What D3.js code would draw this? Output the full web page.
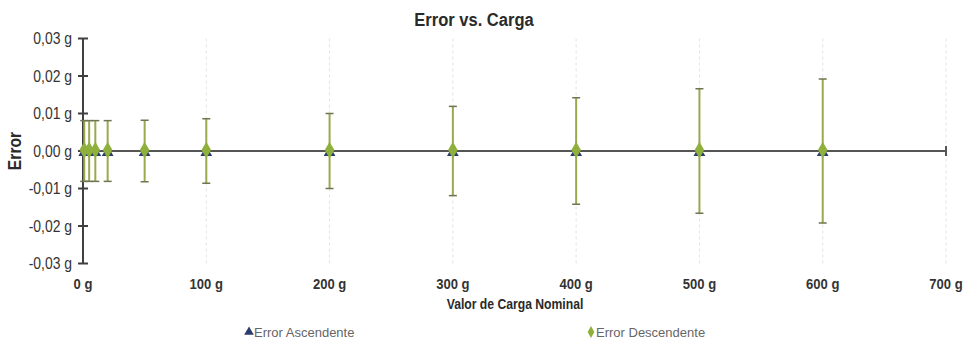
<!DOCTYPE html>
<html>
<head>
<meta charset="utf-8">
<script src="https://cdn.jsdelivr.net/npm/d3@7"></script>
<style>
  html, body { margin: 0; padding: 0; background: #fff; }
  svg { display: block; }
  text { font-family: "Liberation Sans", Arial, sans-serif; }
</style>
</head>
<body>
<svg id="chart" width="968" height="340"></svg>
<script>
// Nominal load values (g) and measured errors (g)
const cargas = [1, 5, 10, 20, 50, 100, 200, 300, 400, 500, 600];
const errorAscendente = [0, 0, 0, 0, 0, 0, 0, 0, 0, 0, 0];
const errorDescendente = [0, 0, 0, 0, 0, 0, 0, 0, 0, 0, 0];
// Expanded uncertainty for each load (g), drawn as error bars
const incertidumbre = [0.0081, 0.0081, 0.0081, 0.0081, 0.0082, 0.0086, 0.0100, 0.0119, 0.0142, 0.0166, 0.0192];

const xTicks = [0, 100, 200, 300, 400, 500, 600, 700];
const yTicks = [-0.03, -0.02, -0.01, 0, 0.01, 0.02, 0.03];

const svg = d3.select("#chart");

const x = d3.scaleLinear().domain([0, 700]).range([83, 946]);
const y = d3.scaleLinear().domain([-0.03, 0.03]).range([263.5, 38.5]);

const fmtY = v => d3.format(".2f")(v).replace(".", ",").replace("−", "-") + " g";
const fmtX = v => v + " g";

// narrow-looking labels: regular sans squeezed horizontally
const NARROW = 0.87;
const place = (px, py, rot) => `translate(${px},${py})${rot ? ` rotate(${rot})` : ""} scale(${NARROW},1)`;

// vertical dashed gridlines
svg.append("g")
  .selectAll("line")
  .data(xTicks.slice(1))
  .join("line")
  .attr("x1", d => x(d)).attr("x2", d => x(d))
  .attr("y1", y(0.03)).attr("y2", y(-0.03))
  .attr("stroke", "#e2e2e2")
  .attr("stroke-width", 1)
  .attr("stroke-dasharray", "3,3");

// Y axis with crossing ticks
const yAxis = svg.append("g");
yAxis.append("line")
  .attr("x1", x(0)).attr("x2", x(0))
  .attr("y1", y(0.03)).attr("y2", y(-0.03))
  .attr("stroke", "#404040").attr("stroke-width", 2);
yAxis.selectAll("line.tk")
  .data(yTicks)
  .join("line").attr("class", "tk")
  .attr("x1", x(0) - 5).attr("x2", x(0) + 5)
  .attr("y1", d => y(d)).attr("y2", d => y(d))
  .attr("stroke", "#404040").attr("stroke-width", 2);
yAxis.selectAll("text")
  .data(yTicks)
  .join("text")
  .attr("transform", d => place(72, y(d)))
  .attr("dy", "0.35em")
  .attr("text-anchor", "end")
  .attr("font-size", 16)
  .attr("fill", "#333")
  .text(fmtY);

// X axis line drawn at zero error, with crossing ticks
const xAxis = svg.append("g");
xAxis.append("line")
  .attr("x1", x(0)).attr("x2", x(700))
  .attr("y1", y(0)).attr("y2", y(0))
  .attr("stroke", "#555").attr("stroke-width", 2);
xAxis.selectAll("line.tk")
  .data(xTicks)
  .join("line").attr("class", "tk")
  .attr("x1", d => x(d)).attr("x2", d => x(d))
  .attr("y1", y(0) - 5).attr("y2", y(0) + 5)
  .attr("stroke", "#555").attr("stroke-width", 2);
// X tick labels at the bottom
svg.append("g")
  .selectAll("text")
  .data(xTicks)
  .join("text")
  .attr("transform", d => place(x(d), 289))
  .attr("text-anchor", "middle")
  .attr("font-size", 15)
  .attr("font-weight", "bold")
  .attr("fill", "#333")
  .text(fmtX);

// Error bars
const bars = svg.append("g");
const pts = cargas.map((c, i) => ({ c, v: errorDescendente[i], u: incertidumbre[i] }));
bars.selectAll("line.stem")
  .data(pts)
  .join("line").attr("class", "stem")
  .attr("x1", d => x(d.c)).attr("x2", d => x(d.c))
  .attr("y1", d => y(d.v + d.u)).attr("y2", d => y(d.v - d.u))
  .attr("stroke", "#9aa84e").attr("stroke-width", 2);
["top", "bot"].forEach(k => {
  bars.selectAll("line.cap-" + k)
    .data(pts)
    .join("line").attr("class", "cap-" + k)
    .attr("x1", d => x(d.c) - 4).attr("x2", d => x(d.c) + 4)
    .attr("y1", d => y(k === "top" ? d.v + d.u : d.v - d.u))
    .attr("y2", d => y(k === "top" ? d.v + d.u : d.v - d.u))
    .attr("stroke", "#6f7550").attr("stroke-width", 1.5);
});

// Markers: ascending (triangles) under descending (diamonds)
const tri = d3.symbol().type(d3.symbolTriangle).size(60);
const dia = d3.symbol().type(d3.symbolDiamond).size(80);
svg.append("g")
  .selectAll("path")
  .data(cargas.map((c, i) => ({ c, v: errorAscendente[i] })))
  .join("path")
  .attr("d", tri)
  .attr("transform", d => `translate(${x(d.c)},${y(d.v) + 1.5})`)
  .attr("fill", "#2b3c6e");
svg.append("g")
  .selectAll("path")
  .data(cargas.map((c, i) => ({ c, v: errorDescendente[i] })))
  .join("path")
  .attr("d", dia)
  .attr("transform", d => `translate(${x(d.c)},${y(d.v) - 1})`)
  .attr("fill", "#8fb03c");

// Titles
svg.append("text")
  .attr("transform", place(474, 26))
  .attr("text-anchor", "middle")
  .attr("font-size", 19).attr("font-weight", "bold").attr("fill", "#2a2a2a")
  .text("Error vs. Carga");
svg.append("text")
  .attr("transform", place(515, 309))
  .attr("text-anchor", "middle")
  .attr("font-size", 14).attr("font-weight", "bold").attr("fill", "#2a2a2a")
  .text("Valor de Carga Nominal");
svg.append("text")
  .attr("transform", place(21, y(0), -90))
  .attr("text-anchor", "middle")
  .attr("font-size", 18).attr("font-weight", "bold").attr("fill", "#2a2a2a")
  .text("Error");

// Legend
const legend = [
  { label: "Error Ascendente", type: d3.symbolTriangle, color: "#2b3c6e", x: 249 },
  { label: "Error Descendente", type: d3.symbolDiamond, color: "#8fb03c", x: 591 }
];
const lg = svg.append("g").selectAll("g").data(legend).join("g")
  .attr("transform", d => `translate(${d.x},332)`);
lg.append("path")
  .attr("d", d => d3.symbol().type(d.type).size(40)())
  .attr("fill", d => d.color);
lg.append("text")
  .attr("x", 5).attr("dy", "0.35em")
  .attr("font-size", 13).attr("fill", "#666")
  .text(d => d.label);
</script>
</body>
</html>
